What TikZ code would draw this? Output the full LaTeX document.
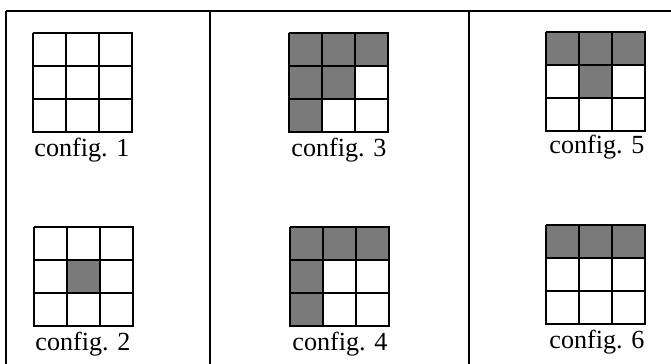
\documentclass[tikz,border=0pt]{standalone}
\usepackage{fontspec}
\setmainfont{Liberation Serif}
\begin{document}
\begin{tikzpicture}[x=0.75pt,y=-0.75pt]
  \useasboundingbox (0,0) rectangle (671,364);
  % frame of the table (runs off at right and bottom)
  \draw[line width=1.1pt] (6,11) -- (700,11);
  \draw[line width=1.1pt] (6,11) -- (6,400);
  \draw[line width=1.1pt] (210,11) -- (210,400);
  \draw[line width=1.1pt] (469,11) -- (469,400);
  % top left corners of the grids
  \coordinate (g1) at (33,33);
  \coordinate (g2) at (34,227);
  \coordinate (g3) at (289,33);
  \coordinate (g4) at (290,227);
  \coordinate (g5) at (546,32);
  \coordinate (g6) at (546,225);
  % shaded cells: grid/column/row
  \foreach \g/\c/\r in {g2/1/1,
      g3/0/0, g3/1/0, g3/2/0, g3/0/1, g3/1/1, g3/0/2,
      g4/0/0, g4/1/0, g4/2/0, g4/0/1, g4/0/2,
      g5/0/0, g5/1/0, g5/2/0, g5/1/1,
      g6/0/0, g6/1/0, g6/2/0}
    \fill[black!52,shift={(\g)}] (33*\c,33*\r) rectangle +(33,33);
  % the 3x3 grids
  \foreach \g in {g1,g2,g3,g4,g5,g6}
    \foreach \i in {0,...,3} {
      \draw[line width=1.5pt,shift={(\g)}] (33*\i,-0.5) -- (33*\i,99.5);
      \draw[line width=1.5pt,shift={(\g)}] (-0.5,33*\i) -- (99.5,33*\i);
    }
  % labels
  \node[anchor=base,font=\fontsize{19.6}{22}\selectfont] (lab1) at (82,156) {config. 1};
  \node[anchor=base,font=\fontsize{19.6}{22}\selectfont] (lab2) at (83,350) {config. 2};
  \node[anchor=base,font=\fontsize{19.6}{22}\selectfont] (lab3) at (339,156) {config. 3};
  \node[anchor=base,font=\fontsize{19.6}{22}\selectfont] (lab4) at (340,350) {config. 4};
  \node[anchor=base,font=\fontsize{19.6}{22}\selectfont] (lab5) at (597,153) {config. 5};
  \node[anchor=base,font=\fontsize{19.6}{22}\selectfont] (lab6) at (597,348) {config. 6};
\end{tikzpicture}
\end{document}
